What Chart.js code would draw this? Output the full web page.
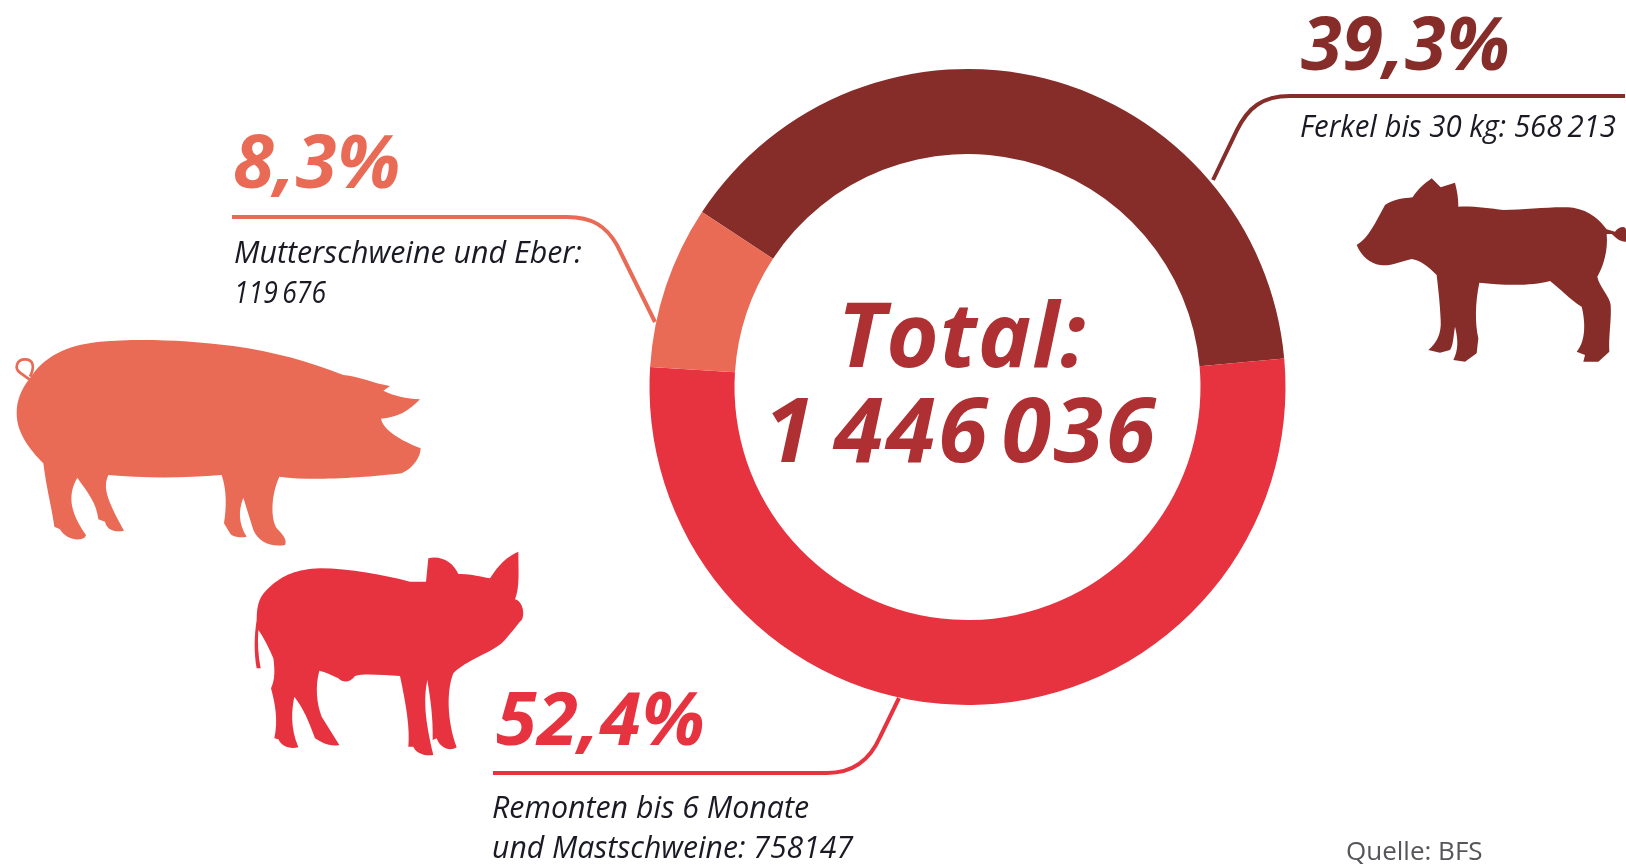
<!DOCTYPE html>
<html lang="de">
<head>
<meta charset="utf-8">
<title>Schweinebestand</title>
<script src="https://cdn.jsdelivr.net/npm/chart.js@4"></script>
<style>
    html, body { margin: 0; padding: 0; background: #fff; }
    canvas { display: block; }
</style>
</head>
<body>
<canvas id="pigChart" width="1626" height="865"></canvas>
<script>
// Data
const categories = ['Ferkel bis 30 kg', 'Remonten bis 6 Monate und Mastschweine', 'Mutterschweine und Eber'];
const headcounts = [568213, 758147, 119676];
const shareLabels = ['39,3%', '52,4%', '8,3%'];
const totalLines = ['Total:', '1\u2009446\u200A036'];
const colors = ['#862D2A', '#E6333F', '#E96A55'];
const totalColor = '#AE3033';

// Label layout: [text, x, baseline, max width]
const shareSpots = [[1301, 70], [496, 745], [233, 188]];
const noteLines = [
    ['Ferkel bis 30 kg: 568\u2009213', 1300, 137, 316],
    ['Mutterschweine und Eber:', 234, 263, 348],
    ['119\u2009676', 234, 303, 92],
    ['Remonten bis 6 Monate', 492, 818, 317],
    ['und Mastschweine: 758147', 492, 858, 361]
];

// Leader lines
const leaders = [
    'M1625 96 L1290 96 C1262 96 1248 108 1237 130 L1213 180',
    'M493 773 L827 773 C853 773 870 760 880 737 L899 698',
    'M232 217 L567 217 C592 217 606 226 617 245 L655 322'
];

// Silhouettes, traced in zoomed pixels (1/3 scale)
const pigs = [
    {
        color: colors[0], x: 1340, y: 160,
        path: 'M50 255 C85 235 105 190 135 135 C160 118 190 115 218 112 C235 85 255 70 275 55 L302 82 L345 68 C352 95 355 115 355 140 C400 138 450 145 490 150 C560 150 640 138 700 143 C750 152 780 180 800 208 L825 215 C835 200 858 195 858 210 L858 245 C835 245 825 230 815 222 L800 222 C805 270 790 320 772 350 C775 375 810 410 812 435 C815 480 805 530 808 575 L775 605 L730 605 L735 585 L710 575 C740 540 735 480 725 440 C690 420 660 385 630 363 C570 380 480 375 418 368 C405 430 405 490 415 535 L410 580 L375 605 L340 600 C355 570 355 540 345 500 C340 530 340 555 330 570 L300 578 L265 570 C290 550 305 520 302 480 C300 430 295 390 290 345 C265 320 240 300 215 297 C180 305 150 320 120 315 C90 310 65 290 50 255 Z'
    },
    {
        color: colors[1], x: 240, y: 540,
        path: 'M50 240 C50 190 60 165 90 140 C130 105 170 88 240 85 C330 85 430 105 510 125 L558 125 L565 55 C600 45 640 65 655 102 C690 100 720 110 750 115 C775 75 800 50 835 35 C835 90 840 140 825 178 C850 185 855 225 845 240 C830 255 810 285 785 310 C750 340 680 360 640 400 C620 450 620 540 650 622 C630 635 600 625 590 595 L578 600 C580 530 570 470 562 420 C550 480 555 540 580 645 C550 650 525 635 520 620 L505 620 C510 570 500 500 480 408 C430 405 370 400 345 408 C330 428 310 430 295 415 C275 405 255 395 238 392 C225 440 230 490 245 530 L298 615 C270 622 240 605 225 595 C205 540 190 505 163 470 C155 510 150 560 175 622 C150 628 125 620 115 598 L103 595 C115 540 105 490 93 445 C105 420 105 390 100 355 C90 330 70 290 55 270 C52 310 55 350 62 385 L50 385 C42 340 42 290 50 240 Z'
    },
    {
        color: colors[2], x: 0, y: 320,
        path: 'M90 175 C130 110 200 75 300 65 C420 55 560 60 700 78 C820 95 930 125 1030 165 C1080 170 1120 190 1170 198 L1150 212 C1180 228 1220 235 1260 238 C1225 275 1190 293 1143 296 C1150 330 1200 360 1262 385 C1262 410 1240 445 1205 460 C1120 470 950 485 838 470 C815 520 810 590 830 625 C850 645 862 660 855 675 C810 682 775 665 760 630 L730 533 C715 570 715 610 740 650 C720 655 695 650 690 640 L672 610 C680 560 680 510 665 465 C550 475 430 475 325 465 C310 500 315 530 372 632 C345 638 320 630 315 605 L295 598 C290 550 265 520 232 473 C205 520 205 570 258 645 C255 665 200 665 180 628 L163 620 C155 560 140 510 130 430 C90 390 50 340 50 280 C50 240 65 205 90 175 Z',
        tail: 'M90 170 C105 140 100 118 75 118 C50 118 42 145 60 158 L88 178'
    }
];

// Draws the silhouettes, leaders and all labels on the chart canvas
const decorations = {
    id: 'decorations',
    afterDraw(chart) {
        const ctx = chart.ctx;
        ctx.save();

        pigs.forEach(function(pig) {
            ctx.save();
            ctx.translate(pig.x, pig.y);
            ctx.scale(1 / 3, 1 / 3);
            ctx.fillStyle = pig.color;
            ctx.fill(new Path2D(pig.path));
            if (pig.tail) {
                ctx.strokeStyle = pig.color;
                ctx.lineWidth = 8;
                ctx.stroke(new Path2D(pig.tail));
            }
            ctx.restore();
        });

        ctx.lineWidth = 4;
        leaders.forEach(function(d, i) {
            ctx.strokeStyle = colors[i];
            ctx.stroke(new Path2D(d));
        });

        ctx.textBaseline = 'alphabetic';
        ctx.textAlign = 'left';

        ctx.font = "italic 700 74px 'Open Sans', sans-serif";
        ctx.letterSpacing = '0.5px';
        shareLabels.forEach(function(label, i) {
            ctx.fillStyle = colors[i];
            ctx.fillText(label, shareSpots[i][0], shareSpots[i][1]);
        });
        ctx.letterSpacing = '0px';

        ctx.font = "italic 400 31px 'Open Sans', sans-serif";
        ctx.fillStyle = '#1a1a24';
        noteLines.forEach(function(n) {
            ctx.fillText(n[0], n[1], n[2], n[3]);
        });

        ctx.font = "400 26px 'Open Sans', sans-serif";
        ctx.fillStyle = '#55555a';
        ctx.fillText('Quelle: BFS', 1346, 860, 139);

        ctx.font = "italic 700 90px 'Open Sans', sans-serif";
        ctx.fillStyle = totalColor;
        ctx.textAlign = 'center';
        ctx.letterSpacing = '1px';
        ctx.fillText(totalLines[0], 962, 367);
        ctx.letterSpacing = '2.5px';
        ctx.fillText(totalLines[1], 961, 462);

        ctx.restore();
    }
};

new Chart(document.getElementById('pigChart'), {
    type: 'doughnut',
    data: {
        labels: categories,
        datasets: [{
            data: headcounts,
            backgroundColor: colors,
            borderWidth: 0
        }]
    },
    options: {
        responsive: false,
        animation: false,
        rotation: -56.6,
        cutout: 233,
        layout: {
            padding: { left: 649.5, right: 340.5, top: 69, bottom: 160 }
        },
        plugins: {
            legend: { display: false },
            tooltip: { enabled: false }
        }
    },
    plugins: [decorations]
});
</script>
</body>
</html>
